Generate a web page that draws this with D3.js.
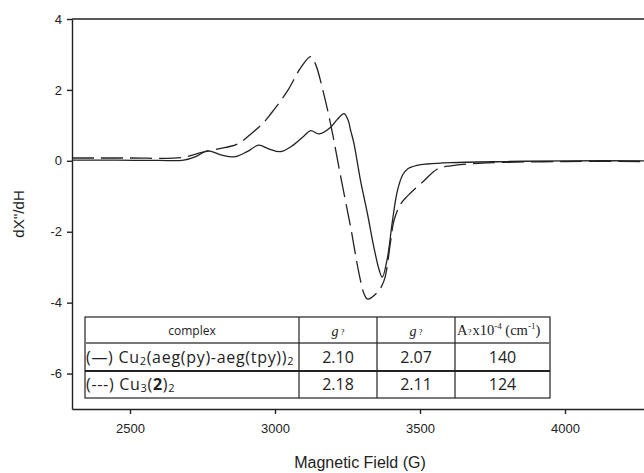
<html>
<head>
    <meta charset="utf-8">
    <script src="https://d3js.org/d3.v7.min.js"></script>
    <style>
        body { margin: 0; background: #fff; }
        .axis text { font-family: "Liberation Sans", Arial, sans-serif; font-size: 13px; fill: #222; }
        .axis path, .axis line { stroke: #222; stroke-width: 1.4; }
    </style>
</head>
<body>
<script>
    // solid line: Cu2(aeg(py)-aeg(tpy))2
    var solidField = [2300, 2450, 2600, 2685, 2727, 2767, 2813, 2858, 2902, 2944, 2978, 3020, 3064, 3100, 3123, 3152, 3192, 3215, 3238, 3252, 3261, 3272, 3295, 3319, 3341, 3360, 3370, 3388, 3405, 3422, 3440, 3457, 3490, 3525, 3606, 3800, 4000, 4300];
    var solidValue = [0.02, 0.02, 0.01, 0.02, 0.12, 0.28, 0.17, 0.11, 0.25, 0.44, 0.34, 0.26, 0.45, 0.7, 0.85, 0.76, 0.95, 1.17, 1.33, 1.15, 0.85, 0.5, -0.56, -1.5, -2.44, -3.1, -3.28, -2.72, -1.69, -0.85, -0.4, -0.23, -0.13, -0.09, -0.05, -0.02, 0, 0];

    // dashed line: Cu3(2)2
    var dashedField = [2300, 2500, 2675, 2744, 2801, 2870, 2916, 2961, 2985, 3043, 3089, 3123, 3140, 3163, 3192, 3227, 3261, 3290, 3307, 3319, 3353, 3376, 3399, 3410, 3433, 3457, 3514, 3560, 3606, 3733, 4000, 4300];
    var dashedValue = [0.08, 0.08, 0.09, 0.23, 0.33, 0.47, 0.75, 1.08, 1.32, 1.97, 2.63, 2.94, 2.72, 2.06, 1.03, -0.47, -1.88, -3.19, -3.75, -3.9, -3.71, -3.38, -2.25, -1.69, -1.22, -0.99, -0.56, -0.23, -0.14, -0.06, -0.02, -0.02];

    var xTicks = [2500, 3000, 3500, 4000];
    var yTicks = [4, 2, 0, -2, -4, -6];

    // table contents
    var tableHeader = ["complex", "g", "g", "A"];
    var tableRows = [
        ["(\u2014) Cu", "2.10", "2.07", "140"],
        ["(---) Cu", "2.18", "2.11", "124"]
    ];

    var width = 644;
    var height = 473;
    var mLeft = 72, mTop = 19, mBottom = 409, mRight = 652;

    var svg = d3.select("body").append("svg").attr("width", width).attr("height", height);

    var xScale = d3.scaleLinear().domain([2300, 4300]).range([mLeft, mRight]);
    var yScale = d3.scaleLinear().domain([-7, 4]).range([mBottom, mTop]);

    svg.append("defs").append("clipPath").attr("id", "plot")
        .append("rect").attr("x", mLeft).attr("y", mTop).attr("width", mRight - mLeft).attr("height", mBottom - mTop);

    // 軸
    svg.append("g").attr("class", "axis")
        .attr("transform", "translate(0," + mBottom + ")")
        .call(d3.axisBottom(xScale).tickValues(xTicks).tickSize(5).tickSizeOuter(0).tickPadding(10)
            .tickFormat(function(d) { return String(d); }));

    svg.append("g").attr("class", "axis")
        .attr("transform", "translate(" + mLeft + ",0)")
        .call(d3.axisLeft(yScale).tickValues(yTicks).tickSize(5).tickSizeOuter(0).tickPadding(5)
            .tickFormat(function(d) { return String(d); }));

    // top frame line
    svg.append("line").attr("x1", mLeft).attr("x2", width).attr("y1", mTop).attr("y2", mTop)
        .attr("stroke", "#222").attr("stroke-width", 1.4);

    // axis titles
    svg.append("text").attr("x", 360).attr("y", 468).attr("text-anchor", "middle")
        .style("font-family", "Liberation Sans, Arial, sans-serif").style("font-size", "16px").style("fill", "#222")
        .text("Magnetic Field (G)");
    svg.append("text").attr("transform", "translate(24,214) rotate(-90)").attr("text-anchor", "middle")
        .style("font-family", "Liberation Sans, Arial, sans-serif").style("font-size", "15px").style("fill", "#222")
        .text("dX''/dH");

    // curves
    var line = d3.line()
        .x(function(d) { return xScale(d[0]); })
        .y(function(d) { return yScale(d[1]); })
        .curve(d3.curveCatmullRom.alpha(0.5));

    var curves = svg.append("g").attr("clip-path", "url(#plot)");
    curves.append("path").datum(d3.zip(dashedField, dashedValue))
        .attr("d", line).attr("fill", "none").attr("stroke", "#222").attr("stroke-width", 1.3)
        .attr("stroke-dasharray", "22,7");
    curves.append("path").datum(d3.zip(solidField, solidValue))
        .attr("d", line).attr("fill", "none").attr("stroke", "#222").attr("stroke-width", 1.3);

    // table
    var colX = [85, 299, 377, 455, 550];
    var rowY = [317, 343, 371, 398];
    var tbl = svg.append("g");
    tbl.append("rect").attr("x", colX[0]).attr("y", rowY[0]).attr("width", colX[4] - colX[0]).attr("height", rowY[3] - rowY[0])
        .attr("fill", "#fff").attr("stroke", "#222").attr("stroke-width", 1.2);
    tbl.append("line").attr("x1", colX[0]).attr("x2", colX[4]).attr("y1", rowY[1]).attr("y2", rowY[1])
        .attr("stroke", "#777").attr("stroke-width", 2);
    tbl.append("line").attr("x1", colX[0]).attr("x2", colX[4]).attr("y1", rowY[2]).attr("y2", rowY[2])
        .attr("stroke", "#222").attr("stroke-width", 2);
    colX.slice(1, 4).forEach(function(cx) {
        tbl.append("line").attr("x1", cx).attr("x2", cx).attr("y1", rowY[0]).attr("y2", rowY[3])
            .attr("stroke", "#222").attr("stroke-width", 1.2);
    });

    var sans = "'Open Sans', Lato, sans-serif";
    var serif = "'Liberation Serif', 'DejaVu Serif', serif";

    // header
    tbl.append("text").attr("x", (colX[0] + colX[1]) / 2).attr("y", 335).attr("text-anchor", "middle")
        .style("font-family", sans).style("font-size", "12px").style("fill", "#222").text(tableHeader[0]);
    [1, 2].forEach(function(i) {
        var t = tbl.append("text").attr("x", (colX[i] + colX[i + 1]) / 2).attr("y", 336).attr("text-anchor", "middle")
            .style("font-family", serif).style("font-size", "14px").style("fill", "#222");
        t.append("tspan").style("font-style", "italic").text(tableHeader[i]);
        t.append("tspan").attr("dx", 2).style("font-size", "9px").attr("dy", -1).text("?");
    });
    var ah = tbl.append("text").attr("x", colX[3] + 2).attr("y", 335)
        .style("font-family", serif).style("font-size", "14.5px").style("fill", "#222");
    ah.append("tspan").text(tableHeader[3]);
    ah.append("tspan").style("font-size", "9px").text("?");
    ah.append("tspan").attr("dx", 1).text("x10");
    ah.append("tspan").style("font-size", "9px").attr("dy", -6).text("-4");
    ah.append("tspan").attr("dy", 6).text(" (cm");
    ah.append("tspan").style("font-size", "9px").attr("dy", -6).text("-1");
    ah.append("tspan").attr("dy", 6).text(")");

    // rows
    tableRows.forEach(function(row, r) {
        var y = (rowY[r + 1] + rowY[r + 2]) / 2 + 5.5;
        var t = tbl.append("text").attr("x", colX[0] + 1).attr("y", y)
            .style("font-family", sans).style("font-size", "16px").style("letter-spacing", "0.7px").style("fill", "#222");
        t.append("tspan").text(row[0]);
        if (r === 0) {
            t.append("tspan").style("font-size", "11px").attr("dy", 2).text("2");
            t.append("tspan").attr("dy", -2).text("(aeg(py)-aeg(tpy))");
            t.append("tspan").style("font-size", "11px").attr("dy", 2).text("2");
        } else {
            t.append("tspan").style("font-size", "11px").attr("dy", 2).text("3");
            t.append("tspan").attr("dy", -2).text("(");
            t.append("tspan").style("font-weight", "bold").text("2");
            t.append("tspan").text(")");
            t.append("tspan").style("font-size", "11px").attr("dy", 2).text("2");
        }
        for (var c = 1; c < 4; c++) {
            tbl.append("text").attr("x", (colX[c] + colX[c + 1]) / 2).attr("y", y).attr("text-anchor", "middle")
                .style("font-family", sans).style("font-size", "16px").style("fill", "#222").text(row[c]);
        }
    });
</script>
</body>
</html>
